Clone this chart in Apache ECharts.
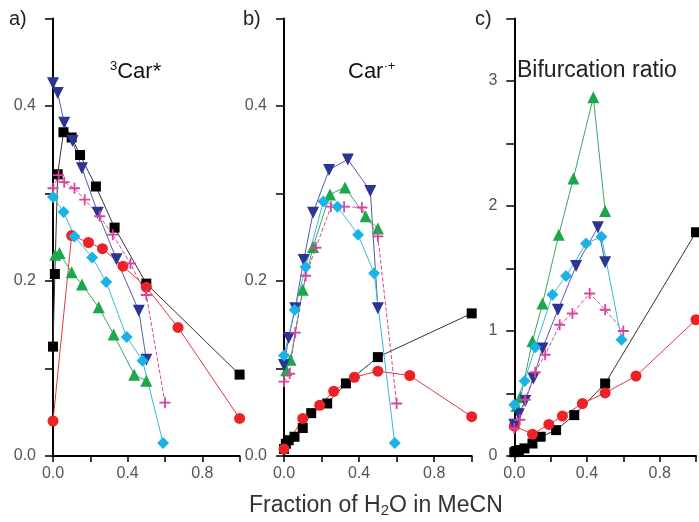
<!DOCTYPE html>
<html><head><meta charset="utf-8">
<script src="https://cdn.jsdelivr.net/npm/echarts@6/dist/echarts.min.js"></script>
<style>html,body{margin:0;padding:0;background:#fff}#c{width:699px;height:522px}</style>
</head><body><div id="c"></div>
<script>
// ---- data ----
const blackX = [0, 0.01, 0.025, 0.056, 0.1, 0.145, 0.23, 0.33, 0.5, 1.0];
const blackA = [0.125, 0.208, 0.322, 0.370, 0.364, 0.344, 0.308, 0.261, 0.197, 0.093];
const blackB = [0.008, 0.014, 0.018, 0.022, 0.032, 0.049, 0.060, 0.083, 0.113, 0.163];
const blackC = [0.03, 0.04, 0.048, 0.061, 0.10, 0.154, 0.207, 0.327, 0.58, 1.79];

const redX = [0, 0.1, 0.19, 0.265, 0.375, 0.5, 0.67, 1.0];
const redA = [0.040, 0.252, 0.244, 0.237, 0.217, 0.193, 0.147, 0.043];
const redB = [0.008, 0.043, 0.058, 0.074, 0.090, 0.097, 0.092, 0.045];
const redC = [0.24, 0.175, 0.253, 0.32, 0.42, 0.505, 0.64, 1.09];

const greenX = [0.012, 0.035, 0.1, 0.155, 0.245, 0.325, 0.435, 0.5];
const greenA = [0.23, 0.232, 0.21, 0.196, 0.17, 0.139, 0.093, 0.086];
const greenB = [0.098, 0.11, 0.19, 0.239, 0.299, 0.307, 0.274, 0.26];
const greenC = [0.40, 0.47, 0.92, 1.22, 1.77, 2.22, 2.87, 1.96];

const navyX = [0, 0.025, 0.06, 0.105, 0.155, 0.24, 0.34, 0.46, 0.5];
const navyA = [0.426, 0.415, 0.381, 0.36, 0.329, 0.278, 0.225, 0.166, 0.110];
const navyB = [0.104, 0.135, 0.169, 0.224, 0.278, 0.327, 0.339, 0.303, 0.169];
const navyC = [0.25, 0.335, 0.44, 0.62, 0.86, 1.17, 1.52, 1.83, 1.55];

const magentaX = [0, 0.03, 0.06, 0.115, 0.17, 0.25, 0.32, 0.415, 0.5, 0.6];
const magentaA = [0.306, 0.321, 0.313, 0.306, 0.293, 0.274, 0.253, 0.22, 0.184, 0.061];
const magentaB = [0.085, 0.094, 0.141, 0.206, 0.238, 0.285, 0.285, 0.284, 0.251, 0.06];
const magentaC = [0.22, 0.29, 0.45, 0.67, 0.81, 1.05, 1.14, 1.30, 1.17, 1.0];

const cyanX = [0, 0.057, 0.115, 0.21, 0.285, 0.395, 0.48, 0.59];
const cyanA = [0.296, 0.279, 0.251, 0.227, 0.199, 0.136, 0.109, 0.015];
const cyanB = [0.115, 0.167, 0.216, 0.291, 0.285, 0.253, 0.209, 0.015];
const cyanC = [0.41, 0.60, 0.87, 1.29, 1.44, 1.70, 1.755, 0.93];

const panelLetters = ['a)', 'b)', 'c)'];

// ---- chart ----
const FONT = 'Liberation Sans, Arial, sans-serif';
const PLUS = 'path://M4.2,0h1.6v4.2h4.2v1.6h-4.2v4.2h-1.6v-4.2h-4.2v-1.6h4.2z';
const styles = {
  black:   {color:'#000000', line:'#333333', symbol:'rect', size:10, rot:0, type:'solid'},
  red:     {color:'#ec2227', line:'#e0393d', symbol:'circle', size:11, rot:0, type:'solid'},
  green:   {color:'#1ba84a', line:'#3aa860', symbol:'triangle', size:12, rot:0, type:'solid'},
  navy:    {color:'#2b3593', line:'#5a5aa8', symbol:'triangle', size:12, rot:180, type:'solid'},
  magenta: {color:'#d8449b', line:'#d8449b', symbol:PLUS, size:11, rot:0, type:'dashed'},
  cyan:    {color:'#1ab3e6', line:'#3bb7e0', symbol:'diamond', size:12, rot:0, type:'solid'}
};
const panels = [
  {left:53, width:186.6, max:0.5, interval:0.1,
   sets:{black:blackA, red:redA, green:greenA, navy:navyA, magenta:magentaA, cyan:cyanA}},
  {left:284, width:187.7, max:0.5, interval:0.1,
   sets:{black:blackB, red:redB, green:greenB, navy:navyB, magenta:magentaB, cyan:cyanB}},
  {left:514.3, width:187, max:3.5, interval:0.5,
   sets:{black:blackC, red:redC, green:greenC, navy:navyC, magenta:magentaC, cyan:cyanC}}
];
const xs = {black:blackX, red:redX, green:greenX, navy:navyX, magenta:magentaX, cyan:cyanX};

const grid = [], xAxis = [], yAxis = [], series = [];
panels.forEach((p, i) => {
  grid.push({left:p.left, width:p.width, top:18.5, height:437.5});
  xAxis.push({type:'value', gridIndex:i, min:0, max:1, interval:0.2,
    axisLine:{lineStyle:{color:'#000', width:2}},
    axisTick:{inside:false, length:6, lineStyle:{color:'#000', width:1.5}},
    splitLine:{show:false},
    axisLabel:{margin:10, fontSize:16, color:'#555', fontFamily:FONT,
      formatter: v => (Math.round(v*10) % 4 === 0) ? v.toFixed(1) : ''}
  });
  yAxis.push({type:'value', gridIndex:i, min:0, max:p.max, interval:p.interval,
    axisLine:{show:true, lineStyle:{color:'#000', width:2}},
    axisTick:{show:true, inside:false, length:8, lineStyle:{color:'#000', width:1.5}},
    splitLine:{show:false},
    axisLabel:{margin:17, fontSize:16, color:'#555', fontFamily:FONT,
      formatter: i < 2
        ? (v => (Math.round(v*10) % 2 === 0 && Math.round(v*10) < 5) ? v.toFixed(1) : '')
        : (v => (Math.abs(v - Math.round(v)) < 1e-6 && v < 3.4) ? String(Math.round(v)) : '')}
  });
  Object.keys(styles).forEach(k => {
    const s = styles[k];
    series.push({type:'line', xAxisIndex:i, yAxisIndex:i, clip:false,
      data: xs[k].map((x, j) => [x, p.sets[k][j]]),
      symbol:s.symbol, symbolSize:s.size, symbolRotate:s.rot,
      itemStyle:{color:s.color},
      lineStyle:{color:s.line, width:1, type:s.type},
      animation:false, z: 2});
  });
});

const chart = echarts.init(document.getElementById('c'), null, {renderer:'canvas'});
chart.setOption({
  backgroundColor:'#fff',
  animation:false,
  grid, xAxis, yAxis, series,
  graphic:[
    {type:'text', left:9, top:9, style:{text:panelLetters[0], font:'20px '+FONT, fill:'#222'}},
    {type:'text', left:243, top:9, style:{text:panelLetters[1], font:'20px '+FONT, fill:'#222'}},
    {type:'text', left:475, top:9, style:{text:panelLetters[2], font:'20px '+FONT, fill:'#222'}},
    {type:'text', left:110, top:60, style:{
      text:'{s|3}{t|Car*}', rich:{s:{fontSize:13, fontFamily:FONT, fill:'#111', padding:[0,0,11,0]}, t:{fontSize:22, fontFamily:FONT, fill:'#111'}}}},
    {type:'text', left:348, top:60, style:{
      text:'{t|Car}{s|·+}', rich:{s:{fontSize:13, fontFamily:FONT, fill:'#111', padding:[0,0,11,0]}, t:{fontSize:22, fontFamily:FONT, fill:'#111'}}}},
    {type:'text', left:517, top:59, style:{text:'Bifurcation ratio', font:'23px '+FONT, fill:'#222'}},
    {type:'text', left:249, top:494, style:{
      text:'{t|Fraction of H}{s|2}{t|O in MeCN}', rich:{t:{fontSize:23, fontFamily:FONT, fill:'#333'}, s:{fontSize:15, fontFamily:FONT, fill:'#333', padding:[11,0,0,0]}}}}
  ]
});
</script></body></html>
